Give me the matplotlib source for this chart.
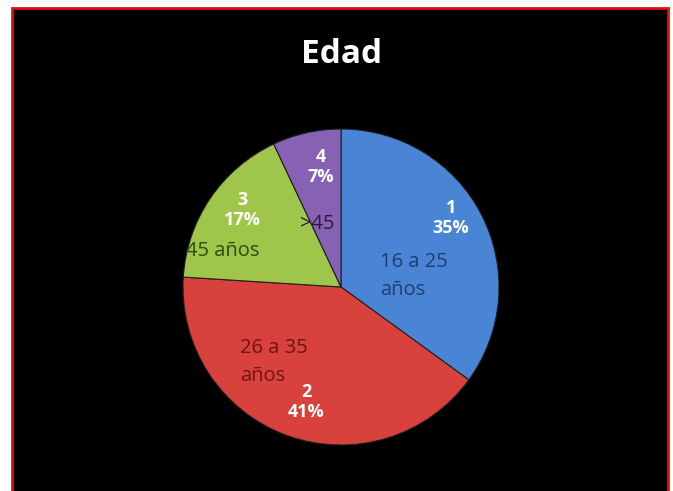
import matplotlib

matplotlib.use("Agg")
import matplotlib.pyplot as plt
from matplotlib.patches import Rectangle

# --- data ---------------------------------------------------------------
numbers = ["1", "2", "3", "4"]
categories = ["16 a 25\naños", "26 a 35\naños", "45 años", ">45"]
shares = [35, 41, 17, 7]
colors = ["#4a84d4", "#d8413c", "#9fc54a", "#8762b4"]
cat_colors = ["#1f3f6e", "#6e1414", "#2f4a10", "#2a1a40"]

W, H = 673, 491
CX, CY, R = 341, H - 287, 158

fig = plt.figure(figsize=(W / 100, H / 100), dpi=100)
fig.patch.set_facecolor("white")
ax = fig.add_axes([0, 0, 1, 1])

# black panel with red border
ax.add_patch(Rectangle((12, -5), 656, H - 8 + 5, facecolor="black",
                       edgecolor="#e01010", lw=2, zorder=0))

wedges, _ = ax.pie(shares, colors=colors, startangle=90, counterclock=False,
                   center=(CX, CY), radius=R,
                   wedgeprops=dict(edgecolor="#202020", linewidth=0.8))
for w in wedges:
    w.set_zorder(2)

# pie() resets the limits, so set the pixel frame afterwards
ax.set_xlim(0, W)
ax.set_ylim(0, H)
ax.set_aspect("equal")
ax.axis("off")

font = ["Open Sans", "DejaVu Sans"]
ax.text(342, H - 54, "Edad", color="white", fontsize=24, fontweight="bold",
        ha="center", va="center", family=font)

# value labels (number + percent) in white, category labels in dark tone
val_pos = [(451, H - 218), (306, H - 402), (242, H - 210), (321, H - 167)]
cat_pos = [(380, H - 276), (240, H - 362), (186, H - 251), (300, H - 224)]
for i in range(len(shares)):
    ax.text(*val_pos[i], f"{numbers[i]}\n{shares[i]}%", color="white",
            fontsize=13, fontweight="bold", ha="center", va="center",
            family=font, linespacing=1.15, zorder=3)
    ax.text(*cat_pos[i], categories[i], color=cat_colors[i], fontsize=14.5,
            ha="left", va="center", family=font, linespacing=1.5, zorder=3)

fig.savefig("out.png", dpi=100, facecolor="white")
